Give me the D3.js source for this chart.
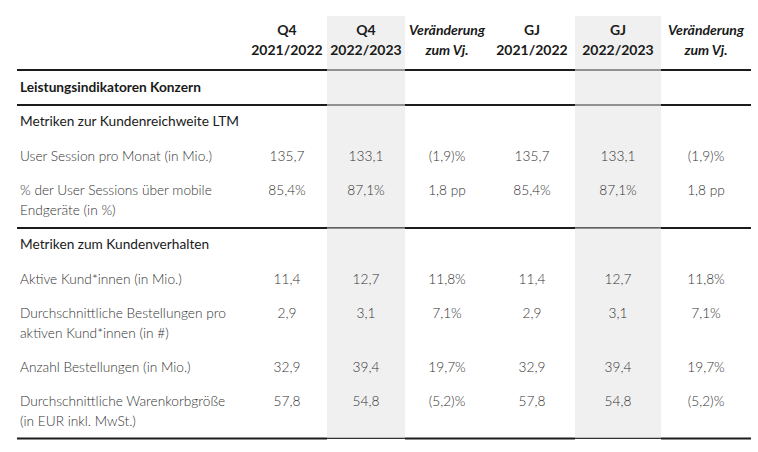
<!DOCTYPE html>
<html>
<head>
<meta charset="utf-8">
<script src="https://cdn.jsdelivr.net/npm/d3@7"></script>
<style>
  html, body { margin: 0; padding: 0; background: #fff; }
  svg { display: block; font-family: Lato, "Open Sans", sans-serif; }
</style>
</head>
<body>
<svg id="chart" width="758" height="452"></svg>
<script>
// ---------- DATA ----------
const columnKeys = ["q4_prev", "q4_curr", "q4_chg", "gj_prev", "gj_curr", "gj_chg"];
const headerLine1 = ["Q4", "Q4", "Veränderung", "GJ", "GJ", "Veränderung"];
const headerLine2 = ["2021/2022", "2022/2023", "zum Vj.", "2021/2022", "2022/2023", "zum Vj."];
const highlighted = ["q4_curr", "gj_curr"];
const italicHeaders = ["q4_chg", "gj_chg"];

const rowTypes = ["section", "group", "metric", "metric", "group", "metric", "metric", "metric", "metric"];
const rowLabels = [
  ["Leistungsindikatoren Konzern"],
  ["Metriken zur Kundenreichweite LTM"],
  ["User Session pro Monat (in Mio.)"],
  ["% der User Sessions über mobile", "Endgeräte (in %)"],
  ["Metriken zum Kundenverhalten"],
  ["Aktive Kund*innen (in Mio.)"],
  ["Durchschnittliche Bestellungen pro", "aktiven Kund*innen (in #)"],
  ["Anzahl Bestellungen (in Mio.)"],
  ["Durchschnittliche Warenkorbgröße", "(in EUR inkl. MwSt.)"]
];
// metric rows only
const valueUnits  = ["", "%", "", "", "", ""];
const changeUnits = ["%", " pp", "%", "%", "%", "%"];
const q4Prev   = [135.7, 85.4, 11.4, 2.9, 32.9, 57.8];
const q4Curr   = [133.1, 87.1, 12.7, 3.1, 39.4, 54.8];
const q4Change = [-1.9, 1.8, 11.8, 7.1, 19.7, -5.2];
const gjPrev   = [135.7, 85.4, 11.4, 2.9, 32.9, 57.8];
const gjCurr   = [133.1, 87.1, 12.7, 3.1, 39.4, 54.8];
const gjChange = [-1.9, 1.8, 11.8, 7.1, 19.7, -5.2];

// ---------- LAYOUT ----------
const svg = d3.select("#chart");
const lineLeft = 17, labelX = 20;
const colEdges = [247, 327, 405, 489, 575, 661, 751];
const xLeft = d3.scaleOrdinal().domain(columnKeys).range(colEdges.slice(0, 6));
const xRight = d3.scaleOrdinal().domain(columnKeys).range(colEdges.slice(1));
const xCenter = k => (xLeft(k) + xRight(k)) / 2;

const locale = d3.formatLocale({ decimal: ",", thousands: ".", grouping: [3], currency: ["", " €"] });
const f1 = locale.format(".1f");
const fmtVal = (v, u) => f1(v) + u;
const fmtChg = (v, u) => v < 0 ? "(" + f1(-v) + ")" + u : f1(v) + u;

const bodySize = 13.7;
const headSize = 14;

// vertical layout
const headTop = 16;
const headerRuleY = 70;
const firstBaseline = 92;
const rowStep = 34.3;
const lineH = 20;
let yb = firstBaseline;
const rows = rowLabels.map((lines, i) => {
  const r = { type: rowTypes[i], lines, y: yb };
  yb += (lines.length - 1) * lineH + rowStep;
  return r;
});
const lastRow = rows[rows.length - 1];
const bottomY = lastRow.y + (lastRow.lines.length - 1) * lineH + 12;

// highlighted column backgrounds
svg.selectAll("rect.hl").data(highlighted).join("rect")
  .attr("class", "hl")
  .attr("x", d => xLeft(d)).attr("width", d => xRight(d) - xLeft(d))
  .attr("y", headTop).attr("height", bottomY - headTop)
  .attr("fill", "#f0f0f0");

// header text
const hdr = svg.append("g").attr("font-weight", 700).attr("fill", "#1a1a1a")
  .attr("font-size", headSize).attr("text-anchor", "middle");
columnKeys.forEach((k, i) => {
  const it = italicHeaders.includes(k);
  hdr.append("text").attr("x", xCenter(k)).attr("y", 35)
    .attr("font-style", it ? "italic" : "normal").text(headerLine1[i]);
  hdr.append("text").attr("x", xCenter(k)).attr("y", 55)
    .attr("font-style", it ? "italic" : "normal").text(headerLine2[i]);
});

// rules
const ruleYs = [headerRuleY, bottomY];
rows.forEach((r, i) => {
  if (i > 0 && r.type === "group") {
    const prev = rows[i - 1];
    ruleYs.push(prev.y + (prev.lines.length - 1) * lineH + 13);
  }
});
const segs = [];
ruleYs.forEach(y => {
  segs.push({ y, x1: lineLeft, x2: colEdges[0], hl: false });
  columnKeys.forEach(k => segs.push({ y, x1: xLeft(k), x2: xRight(k), hl: highlighted.includes(k) }));
});
svg.selectAll("line.rule").data(segs).join("line")
  .attr("class", "rule")
  .attr("x1", d => d.x1).attr("x2", d => d.x2)
  .attr("y1", d => d.y).attr("y2", d => d.y)
  .attr("stroke", d => d.hl ? "#333" : "#1c1c1c")
  .attr("stroke-width", d => d.hl ? 1.2 : 2);

// row labels
const body = svg.append("g");
rows.forEach(r => {
  const t = body.append("text").attr("x", labelX).attr("y", r.y)
    .attr("font-size", bodySize)
    .attr("font-weight", r.type === "section" ? 700 : r.type === "group" ? 400 : 300)
    .attr("fill", r.type === "metric" ? "#333" : "#1a1a1a");
  r.lines.forEach((ln, j) => {
    t.append("tspan").attr("x", labelX).attr("y", r.y + j * lineH).text(ln);
  });
});

// values
const metricRows = rows.filter(r => r.type === "metric");
const colData = {
  q4_prev: q4Prev.map((v, i) => fmtVal(v, valueUnits[i])),
  q4_curr: q4Curr.map((v, i) => fmtVal(v, valueUnits[i])),
  q4_chg: q4Change.map((v, i) => fmtChg(v, changeUnits[i])),
  gj_prev: gjPrev.map((v, i) => fmtVal(v, valueUnits[i])),
  gj_curr: gjCurr.map((v, i) => fmtVal(v, valueUnits[i])),
  gj_chg: gjChange.map((v, i) => fmtChg(v, changeUnits[i]))
};
columnKeys.forEach(k => {
  svg.append("g").selectAll("text").data(colData[k]).join("text")
    .attr("x", xCenter(k))
    .attr("y", (d, i) => metricRows[i].y)
    .attr("text-anchor", "middle")
    .attr("font-size", bodySize).attr("font-weight", 300)
    .attr("fill", "#333")
    .text(d => d);
});
</script>
</body>
</html>
